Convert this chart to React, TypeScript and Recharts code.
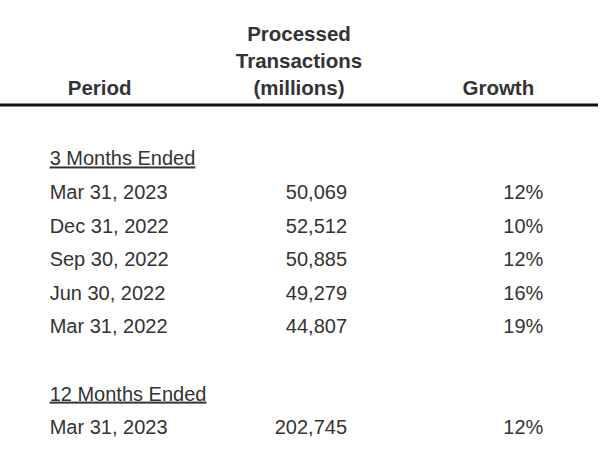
import React from "react";
import { ScatterChart, Scatter, XAxis, YAxis } from "recharts";

// ---- data ----
const columnHeaders: string[][] = [
  ["Period"],
  ["Processed", "Transactions", "(millions)"],
  ["Growth"],
];
const sectionTitles = ["3 Months Ended", "12 Months Ended"];

const quarterPeriods = ["Mar 31, 2023", "Dec 31, 2022", "Sep 30, 2022", "Jun 30, 2022", "Mar 31, 2022"];
const quarterTransactions = [50069, 52512, 50885, 49279, 44807];
const quarterGrowth = [12, 10, 12, 16, 19];

const annualPeriods = ["Mar 31, 2023"];
const annualTransactions = [202745];
const annualGrowth = [12];

// ---- build table rows (slot = row position) ----
type Cell = { col: number; slot: number; label: string };
const sections = [
  { title: sectionTitles[0], periods: quarterPeriods, tx: quarterTransactions, growth: quarterGrowth },
  { title: sectionTitles[1], periods: annualPeriods, tx: annualTransactions, growth: annualGrowth },
];
const titleCells: Cell[] = [];
const periodCells: Cell[] = [];
const txCells: Cell[] = [];
const growthCells: Cell[] = [];
let slot = 0;
sections.forEach((s) => {
  titleCells.push({ col: 0, slot, label: s.title });
  s.periods.forEach((p, i) => {
    const r = slot + 1 + i;
    periodCells.push({ col: 0, slot: r, label: p });
    txCells.push({ col: 1, slot: r, label: s.tx[i].toLocaleString("en-US") });
    growthCells.push({ col: 2, slot: r, label: `${s.growth[i]}%` });
  });
  slot += s.periods.length + 2;
});

const FONT = "Arial, 'Liberation Sans', sans-serif";
const TEXT = "#333333";

const HeaderTick = (props: any) => {
  const { x, y, payload } = props;
  const lines = columnHeaders[payload.value] || [];
  const n = lines.length;
  return (
    <g>
      {lines.map((l, i) => (
        <text
          key={i}
          x={x}
          y={y - 2 - (n - 1 - i) * 27}
          textAnchor="middle"
          fontFamily={FONT}
          fontSize={20.5}
          fontWeight="bold"
          fill={TEXT}
        >
          {l}
        </text>
      ))}
    </g>
  );
};

const makeShape = (dx: number, anchor: "start" | "end", underline = false) => (props: any) => {
  const { cx, cy, payload } = props;
  return (
    <text
      x={cx + dx}
      y={cy}
      textAnchor={anchor}
      fontFamily={FONT}
      fontSize={20}
      fill={TEXT}
      style={underline ? { textDecoration: "underline", textDecorationThickness: "2px", textUnderlineOffset: "3px" } as any : undefined}
    >
      {payload.label}
    </text>
  );
};

export default function App() {
  return (
    <div style={{ position: "absolute", left: 0, top: 0, background: "#fff" }}>
      <ScatterChart width={606} height={451} margin={{ top: 0, right: 8, bottom: 0, left: 0 }}>
        <XAxis
          type="number"
          dataKey="col"
          orientation="top"
          domain={[-0.5, 2.5]}
          ticks={[0, 1, 2]}
          height={105}
          tickSize={0}
          tickMargin={8}
          tick={<HeaderTick />}
          axisLine={{ stroke: "#111111", strokeWidth: 3 }}
          tickLine={false}
          interval={0}
        />
        <YAxis type="number" dataKey="slot" domain={[-1.8, 8.5]} reversed hide width={0} />
        <Scatter data={titleCells} shape={makeShape(-50, "start", true)} isAnimationActive={false} />
        <Scatter data={periodCells} shape={makeShape(-50, "start")} isAnimationActive={false} />
        <Scatter data={txCells} shape={makeShape(48, "end")} isAnimationActive={false} />
        <Scatter data={growthCells} shape={makeShape(45, "end")} isAnimationActive={false} />
      </ScatterChart>
    </div>
  );
}
